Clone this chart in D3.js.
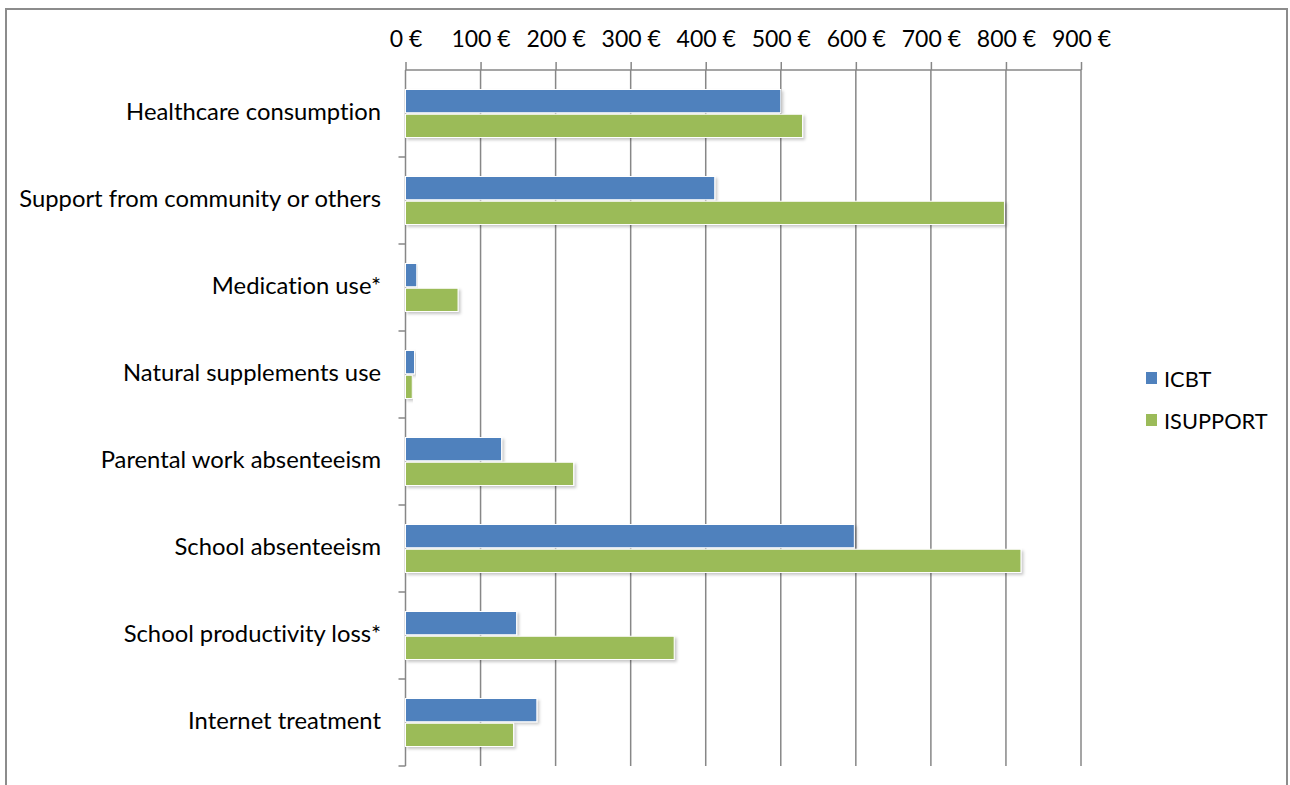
<!DOCTYPE html>
<html>
<head>
<meta charset="utf-8">
<script src="https://cdn.jsdelivr.net/npm/d3@7"></script>
<style>
  html, body { margin: 0; padding: 0; background: #fff; }
  svg { display: block; }
  text { font-family: Lato, "Open Sans", sans-serif; fill: #000; font-variant-ligatures: none; }
</style>
</head>
<body>
<svg id="chart" width="1290" height="785"></svg>
<script>
// Cost categories, top to bottom
const categories = [
  "Healthcare consumption",
  "Support from community or others",
  "Medication use*",
  "Natural supplements use",
  "Parental work absenteeism",
  "School absenteeism",
  "School productivity loss*",
  "Internet treatment"
];
const seriesNames = ["ICBT", "ISUPPORT"];
// Mean costs per category (€)
const icbtValues = [500, 412, 15, 12, 128, 598, 148, 175];
const isupportValues = [529, 798, 70, 9, 224, 820, 358, 144];
const tickValues = [0, 100, 200, 300, 400, 500, 600, 700, 800, 900];
const tickLabels = tickValues.map(v => v + " €");

const colors = { ICBT: "#4F81BD", ISUPPORT: "#9BBB59" };
const gridColor = "#878787";

const svg = d3.select("#chart");

// Outer frame
svg.append("rect")
  .attr("x", 6).attr("y", 9).attr("width", 1281).attr("height", 790)
  .attr("fill", "none").attr("stroke", "#8c8c8c").attr("stroke-width", 2);

const defs = svg.append("defs");
const shadow = defs.append("filter").attr("id", "barShadow")
  .attr("x", "-5%").attr("y", "-20%").attr("width", "115%").attr("height", "160%");
shadow.append("feDropShadow")
  .attr("dx", 2).attr("dy", 2).attr("stdDeviation", 1.5)
  .attr("flood-color", "#000").attr("flood-opacity", 0.22);

const plot = { left: 405.5, right: 1081, top: 70, bottom: 766 };

const x = d3.scaleLinear().domain([0, 900]).range([plot.left, plot.right]);
const y0 = d3.scaleBand().domain(categories).range([plot.top, plot.bottom]).padding(0);
const y1 = d3.scaleBand().domain(seriesNames)
  .range([19.5, y0.bandwidth() - 19.5]).paddingInner(0.06);

// Vertical gridlines
svg.append("g").selectAll("line").data(tickValues.slice(1)).join("line")
  .attr("x1", d => x(d)).attr("x2", d => x(d))
  .attr("y1", plot.top).attr("y2", plot.bottom)
  .attr("stroke", gridColor).attr("stroke-width", 1.5);

// Top value axis
const xAxis = d3.axisTop(x).tickValues(tickValues)
  .tickFormat((d, i) => tickLabels[i]).tickSize(8);
const gx = svg.append("g").attr("transform", `translate(0,${plot.top})`).call(xAxis);
gx.select(".domain").attr("stroke", gridColor).attr("stroke-width", 1.5)
  .attr("d", `M${plot.left},0H${plot.right}`);
gx.selectAll(".tick line").attr("stroke", gridColor).attr("stroke-width", 1.5);
gx.selectAll(".tick text")
  .attr("font-family", "Lato, 'Open Sans', sans-serif")
  .attr("font-size", 23).attr("fill", "#000")
  .attr("y", -32).attr("dy", null).attr("dominant-baseline", "central");

// Left category axis with ticks between categories
const gy = svg.append("g");
gy.append("line")
  .attr("x1", plot.left).attr("x2", plot.left)
  .attr("y1", plot.top).attr("y2", plot.bottom)
  .attr("stroke", gridColor).attr("stroke-width", 1.5);
const boundaries = categories.map(c => y0(c)).concat([plot.bottom]);
gy.selectAll("line.cat").data(boundaries.slice(1)).join("line")
  .attr("class", "cat")
  .attr("x1", plot.left - 7).attr("x2", plot.left)
  .attr("y1", d => d).attr("y2", d => d)
  .attr("stroke", gridColor).attr("stroke-width", 1.5);
gy.selectAll("text").data(categories).join("text")
  .attr("x", 381).attr("y", d => y0(d) + y0.bandwidth() / 2 - 2.5)
  .attr("text-anchor", "end").attr("dominant-baseline", "central")
  .attr("font-size", 23.8).text(d => d);

// Bars
const rows = categories.map((c, i) => ({
  category: c,
  values: [
    { key: "ICBT", value: icbtValues[i] },
    { key: "ISUPPORT", value: isupportValues[i] }
  ]
}));

const groups = svg.append("g").selectAll("g").data(rows).join("g")
  .attr("transform", d => `translate(0,${y0(d.category)})`);
groups.selectAll("rect").data(d => d.values).join("rect")
  .attr("x", x(0))
  .attr("y", d => y1(d.key))
  .attr("width", d => x(d.value) - x(0))
  .attr("height", y1.bandwidth())
  .attr("fill", d => colors[d.key])
  .attr("stroke", "#fff").attr("stroke-width", 1)
  .attr("filter", "url(#barShadow)");

// Legend
const legend = svg.append("g").selectAll("g").data(seriesNames).join("g")
  .attr("transform", (d, i) => `translate(1146,${378 + i * 42})`);
legend.append("rect")
  .attr("x", 0).attr("y", -6).attr("width", 11).attr("height", 12)
  .attr("fill", d => colors[d]);
legend.append("text")
  .attr("x", 18).attr("y", 0).attr("dominant-baseline", "central")
  .attr("font-size", 21.8).text(d => d);
</script>
</body>
</html>
